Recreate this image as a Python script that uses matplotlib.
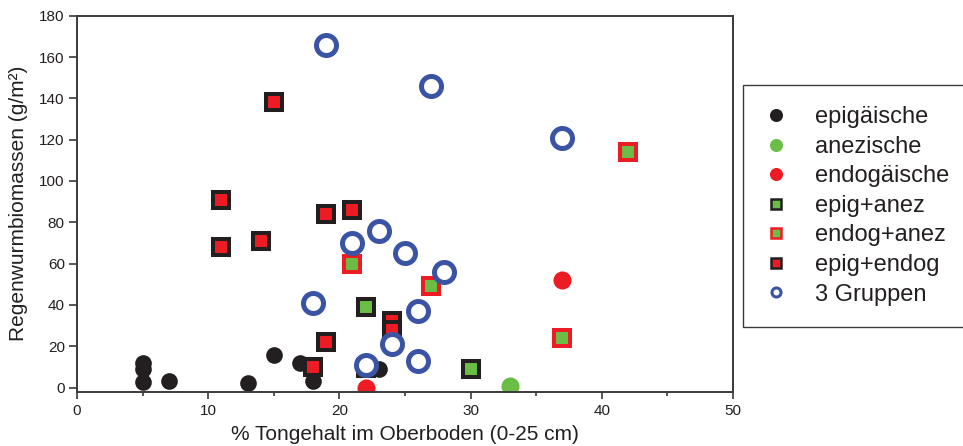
import matplotlib
matplotlib.use("Agg")
import matplotlib.pyplot as plt
from matplotlib.lines import Line2D
from matplotlib.ticker import MultipleLocator

plt.rcParams['font.family'] = ['Liberation Sans', 'DejaVu Sans']

# Tongehalt (%) und Biomasse (g/m²) je Gruppe
epig_x = [5, 5, 5, 7, 13, 15, 17, 18, 23]
epig_y = [12, 9, 2.5, 3, 2, 16, 12, 3, 9]

anez_x = [33]
anez_y = [1]

endog_x = [22, 37]
endog_y = [0, 52]

epig_anez_x = [22, 30]
epig_anez_y = [39, 9]

endog_anez_x = [21, 27, 37, 42]
endog_anez_y = [60, 49, 24, 114]

epig_endog_x = [15, 11, 11, 14, 19, 21, 19, 18, 24, 24, 22]
epig_endog_y = [138, 91, 68, 71, 84, 86, 22, 10, 32, 28, 9.5]

gruppen3_x = [19, 27, 37, 21, 23, 25, 28, 18, 26, 24, 22, 26]
gruppen3_y = [166, 146, 121, 70, 76, 65, 56, 41, 37, 21, 11, 13]

labels = ["epigäische", "anezische", "endogäische", "epig+anez",
          "endog+anez", "epig+endog", "3 Gruppen"]

black = "#231f20"
green = "#6abd45"
red = "#ed1c24"
blue = "#3a53a4"
axcol = "#3a3a3a"

fig, ax = plt.subplots(figsize=(9.63, 4.46), dpi=100)
fig.subplots_adjust(left=0.08, right=0.761, bottom=0.1217, top=0.9648)

# Kreise: reine Gruppen
ax.plot(epig_x, epig_y, 'o', color=black, ms=12, mew=0, ls='none')
ax.plot(anez_x, anez_y, 'o', color=green, ms=13, mew=0, ls='none')

# Quadrate: Mischgruppen
sq = dict(marker='s', ms=12, mew=2.9, ls='none')
ax.plot(epig_anez_x, epig_anez_y, mfc=green, mec=black, **sq)
ax.plot(endog_anez_x, endog_anez_y, mfc=green, mec=red, **sq)
ax.plot(epig_endog_x, epig_endog_y, mfc=red, mec=black, **sq)

ax.plot(endog_x, endog_y, 'o', color=red, ms=13, mew=0, ls='none')

# offene Kreise: alle drei Gruppen
ax.plot(gruppen3_x, gruppen3_y, 'o', mfc='white', mec=blue, ms=14.4, mew=3.6, ls='none')

ax.set_xlim(0, 50)
ax.set_ylim(-2, 180)
ax.xaxis.set_major_locator(MultipleLocator(10))
ax.xaxis.set_minor_locator(MultipleLocator(5))
ax.yaxis.set_major_locator(MultipleLocator(20))

for sp in ax.spines.values():
    sp.set_linewidth(1.4)
    sp.set_color(axcol)

ax.tick_params(axis='both', which='both', direction='out', color=axcol,
               labelcolor=black, labelsize=11, width=1.2)
ax.tick_params(axis='y', which='major', length=5.8, pad=3)
ax.tick_params(axis='x', which='major', length=5, pad=4)
ax.tick_params(axis='x', which='minor', length=2.7)

ax.set_xlabel("% Tongehalt im Oberboden (0-25 cm)", fontsize=15, color=black, labelpad=5)
ax.set_ylabel("Regenwurmbiomassen (g/m²)", fontsize=15, color=black, labelpad=8)

# Legende mit kleineren Symbolen
handles = [
    Line2D([], [], marker='o', ls='none', color=black, ms=9.4, mew=0),
    Line2D([], [], marker='o', ls='none', color=green, ms=9.4, mew=0),
    Line2D([], [], marker='o', ls='none', color=red, ms=9.4, mew=0),
    Line2D([], [], marker='s', ls='none', mfc=green, mec=black, ms=6.8, mew=1.8),
    Line2D([], [], marker='s', ls='none', mfc=green, mec=red, ms=6.8, mew=1.8),
    Line2D([], [], marker='s', ls='none', mfc=red, mec=black, ms=6.8, mew=1.8),
    Line2D([], [], marker='o', ls='none', mfc='white', mec=blue, ms=6.5, mew=2.2),
]
leg = fig.legend(handles=handles, labels=labels, loc='upper left',
                 bbox_to_anchor=(743 / 963, 1 - 85 / 446), borderaxespad=0,
                 fontsize=17, frameon=True, fancybox=False, framealpha=1,
                 edgecolor=axcol, handlelength=1.0, handletextpad=1.15,
                 labelspacing=0.32, borderpad=0.9)
leg.get_frame().set_linewidth(1.0)
for t in leg.get_texts():
    t.set_color(black)

fig.savefig("out.png", dpi=100)
